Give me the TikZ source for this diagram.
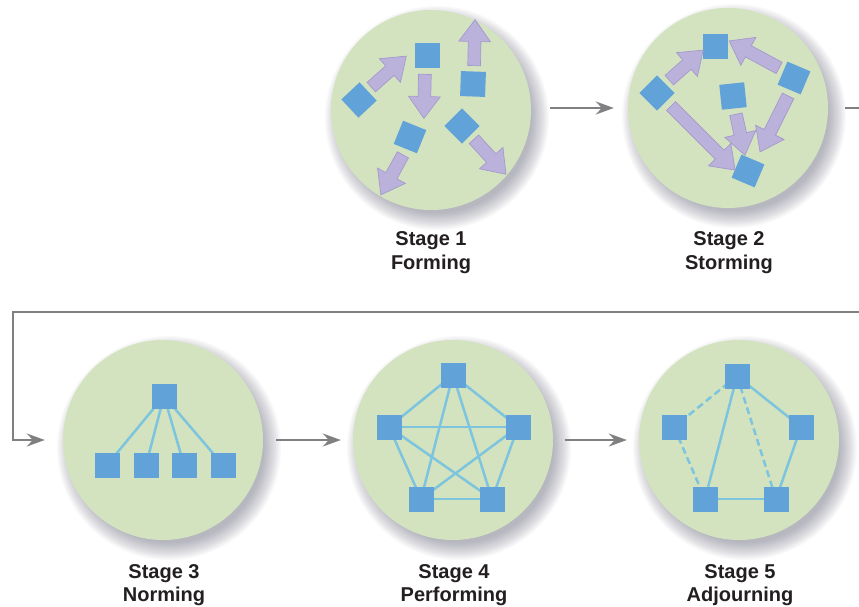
\documentclass[tikz,border=0pt]{standalone}
\usepackage{fontspec}
\newfontfamily\labelfont{Liberation Sans}
\usetikzlibrary{shapes.arrows,arrows.meta,calc}
\definecolor{circfill}{RGB}{211,227,191}
\definecolor{sqblue}{RGB}{97,163,216}
\definecolor{linkblue}{RGB}{125,196,222}
\definecolor{arrfill}{RGB}{187,178,219}
\definecolor{arrdraw}{RGB}{164,152,206}
\definecolor{conngray}{RGB}{128,128,131}
\definecolor{shadowc}{RGB}{70,70,95}
\definecolor{labtext}{RGB}{35,31,32}
\tikzset{
  stagec/.style={circle, fill=circfill, minimum size=200pt, inner sep=0pt},
  sq/.style={fill=sqblue, minimum size=25pt, inner sep=0pt, outer sep=0pt},
  link/.style={linkblue, line width=2.5pt},
  dlink/.style={link, dash pattern=on 7pt off 4pt},
  barrow/.style={single arrow, fill=arrfill, draw=arrdraw, line width=0.7pt,
    inner sep=6pt, single arrow head extend=9.5pt, single arrow tip angle=72,
    minimum width=0pt},
  conn/.style={conngray, line width=2pt, -{Stealth[length=18pt,width=13pt,inset=6pt]}},
  lab/.style={font=\labelfont\bfseries\fontsize{20}{24}\selectfont, text=labtext,
    anchor=base, inner sep=0pt},
}
\newcommand\blockarrow[2]{%
  \path let \p1=(#1), \p2=(#2), \n1={atan2(\y2-\y1,\x2-\x1)},
    \n2={veclen(\x2-\x1,\y2-\y1)} in
    node[barrow, rotate=\n1, minimum height=\n2] at ($(#1)!0.5!(#2)$) {};}
\newcommand\circshadow[1]{%
  \foreach \k in {0,...,13} {
    \fill[shadowc, opacity=0.032] ($(#1)+(6,8)$) circle [radius={(112-1.3*\k)*1pt}];
  }}
\begin{document}
\begin{tikzpicture}[x=1pt,y=-1pt]
\useasboundingbox (0,0) rectangle (859,606);
\clip (0,0) rectangle (859,606);
\fill[white] (0,0) rectangle (859,606);
% centres
\coordinate (c1) at (431,110);
\coordinate (c2) at (728,108);
\coordinate (c3) at (163,440);
\coordinate (c4) at (453,440);
\coordinate (c5) at (739,440);
\foreach \c in {c1,c2,c3,c4,c5} {\circshadow{\c}}
\node[stagec] (s1) at (c1) {};
\node[stagec] (s2) at (c2) {};
\node[stagec] (s3) at (c3) {};
\node[stagec] (s4) at (c4) {};
\node[stagec] (s5) at (c5) {};

% ---------- Stage 1 ----------
\node[sq] (a1) at (427,55) {};
\node[sq, rotate=-2] (a2) at (473,84) {};
\node[sq, rotate=43] (a3) at (359,100) {};
\node[sq, rotate=-22] (a4) at (410,137) {};
\node[sq, rotate=45] (a5) at (462,126) {};
\coordinate (a1t) at (425,70);  \coordinate (a1h) at (424,114);
\coordinate (a2t) at (474,70);  \coordinate (a2h) at (475,24);
\coordinate (a3t) at (368,90);  \coordinate (a3h) at (403,59);
\coordinate (a4t) at (405,151); \coordinate (a4h) at (383,191);
\coordinate (a5t) at (471,136); \coordinate (a5h) at (503,171);
\blockarrow{a1t}{a1h}
\blockarrow{a2t}{a2h}
\blockarrow{a3t}{a3h}
\blockarrow{a4t}{a4h}
\blockarrow{a5t}{a5h}

% ---------- Stage 2 ----------
\node[sq] (b1) at (715,46) {};
\node[sq, rotate=45] (b2) at (657,93) {};
\node[sq, rotate=6] (b3) at (733,96) {};
\node[sq, rotate=-23] (b4) at (794,78) {};
\node[sq, rotate=-23] (b5) at (748,171) {};
\coordinate (b21t) at (666,83);  \coordinate (b21h) at (700,53);
\coordinate (b41t) at (783,70);  \coordinate (b41h) at (733,43);
\coordinate (b25t) at (668,103); \coordinate (b25h) at (732,167);
\coordinate (b35t) at (735,110); \coordinate (b35h) at (744,151);
\coordinate (b45t) at (790,92);  \coordinate (b45h) at (762,148);
\blockarrow{b21t}{b21h}
\blockarrow{b41t}{b41h}
\blockarrow{b25t}{b25h}
\blockarrow{b35t}{b35h}
\blockarrow{b45t}{b45h}

% ---------- Stage 3 ----------
\coordinate (p30) at (164,396);
\foreach \i/\x in {1/107,2/146,3/184,4/223} {\coordinate (p3\i) at (\x,465);}
\foreach \i in {1,...,4} {\draw[link] (p30) -- (p3\i);}
\node[sq] (g0) at (p30) {};
\foreach \i in {1,...,4} {\node[sq] (g\i) at (p3\i) {};}

% ---------- Stage 4 ----------
\coordinate (p40) at (453,375);
\coordinate (p41) at (389,427);
\coordinate (p42) at (518,427);
\coordinate (p43) at (421,499);
\coordinate (p44) at (492,499);
\foreach \i/\j in {0/1,0/2,0/3,0/4,1/2,1/3,1/4,2/3,2/4,3/4} {\draw[link] (p4\i) -- (p4\j);}
\foreach \i in {0,...,4} {\node[sq] (d\i) at (p4\i) {};}

% ---------- Stage 5 ----------
\coordinate (p50) at (737,376);
\coordinate (p51) at (674,427);
\coordinate (p52) at (801,427);
\coordinate (p53) at (705,499);
\coordinate (p54) at (776,499);
\foreach \i/\j in {0/1,1/3,0/4} {\draw[dlink] (p5\i) -- (p5\j);}
\foreach \i/\j in {0/3,0/2,2/4,3/4} {\draw[link] (p5\i) -- (p5\j);}
\foreach \i in {0,...,4} {\node[sq] (e\i) at (p5\i) {};}

% ---------- connectors ----------
\coordinate (r1) at (880,108);
\coordinate (r2) at (880,312);
\coordinate (l1) at (13,312);
\coordinate (l2) at (13,440);
\draw[conn] ([xshift=19pt,yshift=2pt]s1.east) -- ([xshift=-14pt]s2.west);
\draw[conn, line join=miter] ([xshift=17pt]s2.east) -- (r1) -- (r2) -- (l1) -- (l2) -- ([xshift=-18pt]s3.west);
\draw[conn] ([xshift=13pt]s3.east) -- ([xshift=-12pt]s4.west);
\draw[conn] ([xshift=12pt]s4.east) -- ([xshift=-12pt]s5.west);

% ---------- labels ----------
\node[lab] (t1a) at (431,245) {Stage 1};
\node[lab] (t1b) at (431,269) {Forming};
\node[lab] (t2a) at (729,245) {Stage 2};
\node[lab] (t2b) at (729,269) {Storming};
\node[lab] (t3a) at (164,578) {Stage 3};
\node[lab] (t3b) at (164,601) {Norming};
\node[lab] (t4a) at (454,578) {Stage 4};
\node[lab] (t4b) at (454,601) {Performing};
\node[lab] (t5a) at (740,578) {Stage 5};
\node[lab] (t5b) at (740,601) {Adjourning};
\end{tikzpicture}
\end{document}
